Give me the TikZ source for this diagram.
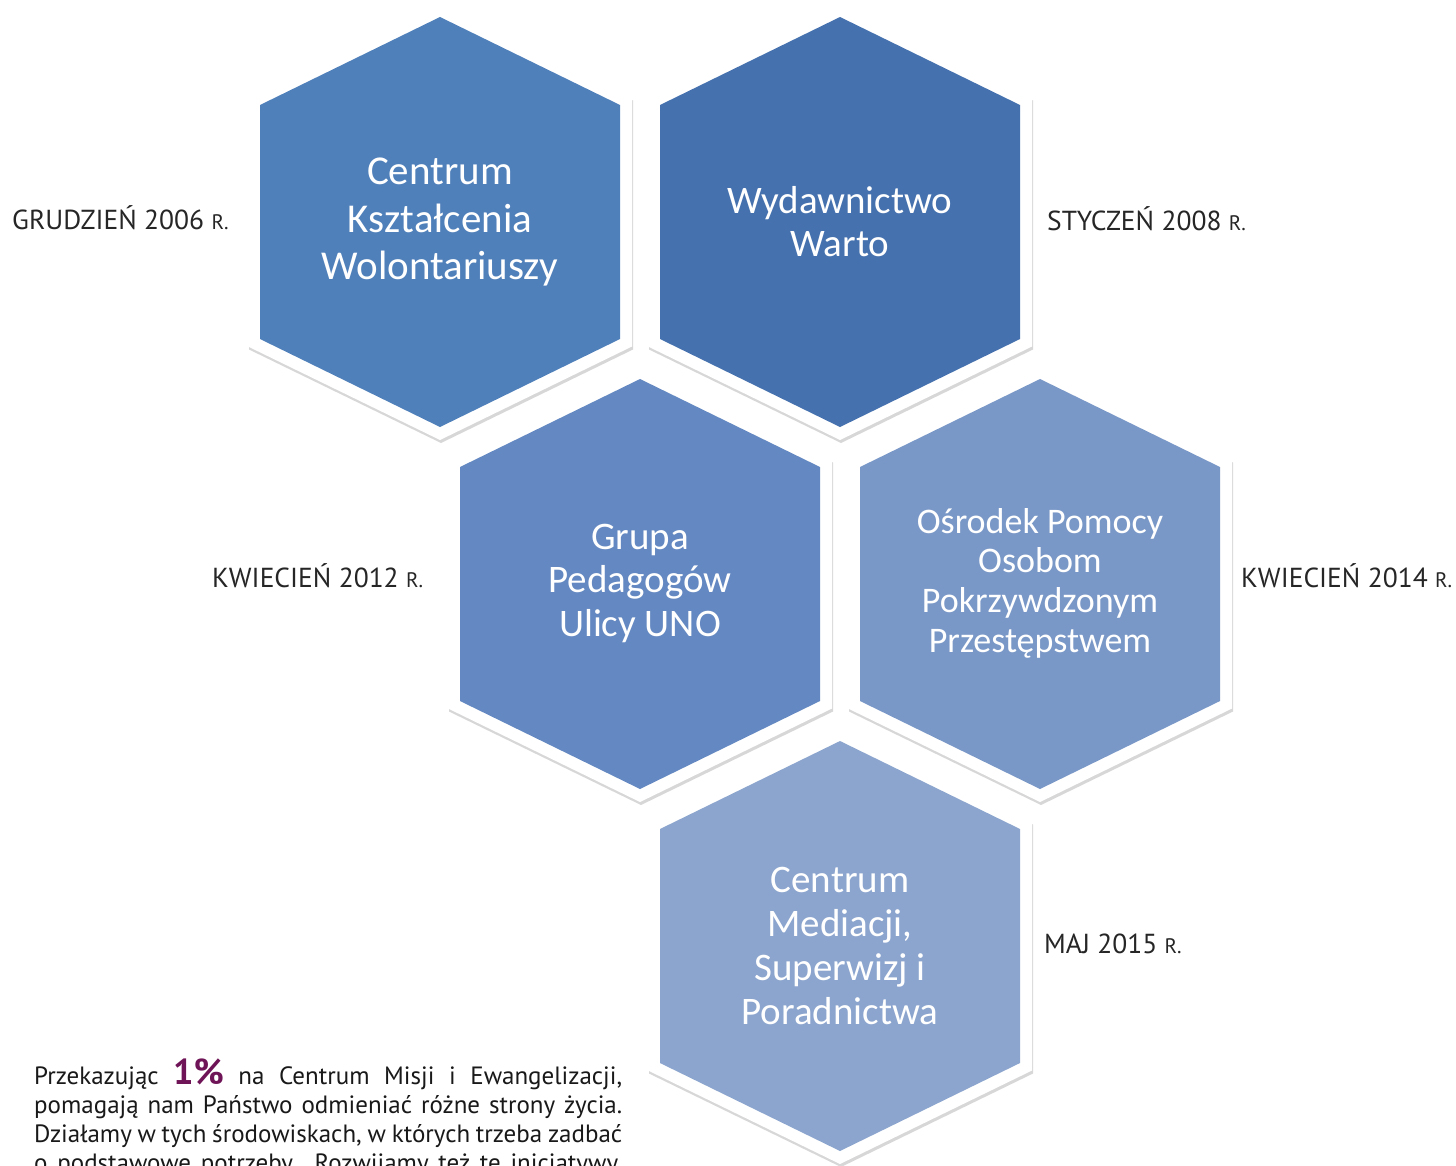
\documentclass[tikz,border=0pt]{standalone}
\usepackage{fontspec}
\setmainfont{PT Sans}
\newfontfamily\hexfont{Carlito}
\usetikzlibrary{shadows}
\definecolor{hexA}{HTML}{5080BA}
\definecolor{hexB}{HTML}{4571AE}
\definecolor{hexC}{HTML}{6488C1}
\definecolor{hexD}{HTML}{7A98C7}
\definecolor{hexE}{HTML}{8CA5CE}
\definecolor{onepct}{HTML}{6E1457}
\newcommand\hexcell[3]{%
  \begin{scope}[shift={(#1,#2)}]
    \fill[white, hexshadow] (0,-218) -- (192,-124.5) -- (192,124.5) -- (0,218) -- (-192,124.5) -- (-192,-124.5) -- cycle;
    \fill[#3] (0,-205) -- (180,-117) -- (180,117) -- (0,205) -- (-180,117) -- (-180,-117) -- cycle;
  \end{scope}}
\newcommand\smr{{\fontsize{21}{21}\selectfont R.}}
\begin{document}
\begin{tikzpicture}[x=1pt,y=-1pt,
  hexshadow/.style={drop shadow={shadow xshift=1pt, shadow yshift=-3pt, opacity=.22, fill=black!70}},
  hextext/.style={text=white, align=center, inner sep=0pt},
  datelabel/.style={anchor=base west, inner sep=0pt, text=black!85, font=\fontsize{27.5}{28}\selectfont},
  paraline/.style={anchor=base west, inner sep=0pt, text=black!90, font=\fontsize{25}{29}\selectfont}]
\useasboundingbox (0,0) rectangle (1456,1165);
\fill[white] (0,0) rectangle (1456,1165);
\clip (0,0) rectangle (1456,1165);

\hexcell{440}{222}{hexA}
\hexcell{840}{222}{hexB}
\hexcell{640}{584}{hexC}
\hexcell{1040}{584}{hexD}
\hexcell{840}{946}{hexE}

\node[hextext, font=\hexfont\fontsize{41}{47.5}\selectfont] (h1) at (440,222) {Centrum\\Kształcenia\\Wolontariuszy};
\node[hextext, font=\hexfont\fontsize{39}{43}\selectfont] (h2) at (840,222) {Wydawnictwo\\Warto};
\node[hextext, font=\hexfont\fontsize{39}{43.5}\selectfont] (h3) at (640,583) {Grupa\\Pedagogów\\Ulicy UNO};
\node[hextext, font=\hexfont\fontsize{36}{39.7}\selectfont] (h4) at (1040,583) {Ośrodek Pomocy\\Osobom\\Pokrzywdzonym\\Przestępstwem};
\node[hextext, font=\hexfont\fontsize{39}{43.7}\selectfont] (h5) at (840,946) {Centrum\\Mediacji,\\Superwizj i\\Poradnictwa};

\node[datelabel] (d1) at (12,229) {GRUDZIEŃ 2006 \smr};
\node[datelabel] (d2) at (1047,230) {STYCZEŃ 2008 \smr};
\node[datelabel] (d3) at (212,587) {KWIECIEŃ 2012 \smr};
\node[datelabel] (d4) at (1241,587) {KWIECIEŃ 2014 \smr};
\node[datelabel] (d5) at (1044,953) {MAJ 2015 \smr};

\node[paraline] (p1) at (34,1084) {\makebox[588pt][s]{Przekazując {\fontsize{36}{36}\selectfont\bfseries\color{onepct}1\%} na Centrum Misji i Ewangelizacji,}};
\node[paraline] (p2) at (34,1113) {\makebox[588pt][s]{pomagają nam Państwo odmieniać różne strony życia.}};
\node[paraline] (p3) at (34,1142) {\makebox[588pt][s]{Działamy w tych środowiskach, w których trzeba zadbać}};
\node[paraline] (p4) at (34,1171) {\makebox[588pt][s]{o podstawowe potrzeby. Rozwijamy też te inicjatywy,}};
\end{tikzpicture}
\end{document}
